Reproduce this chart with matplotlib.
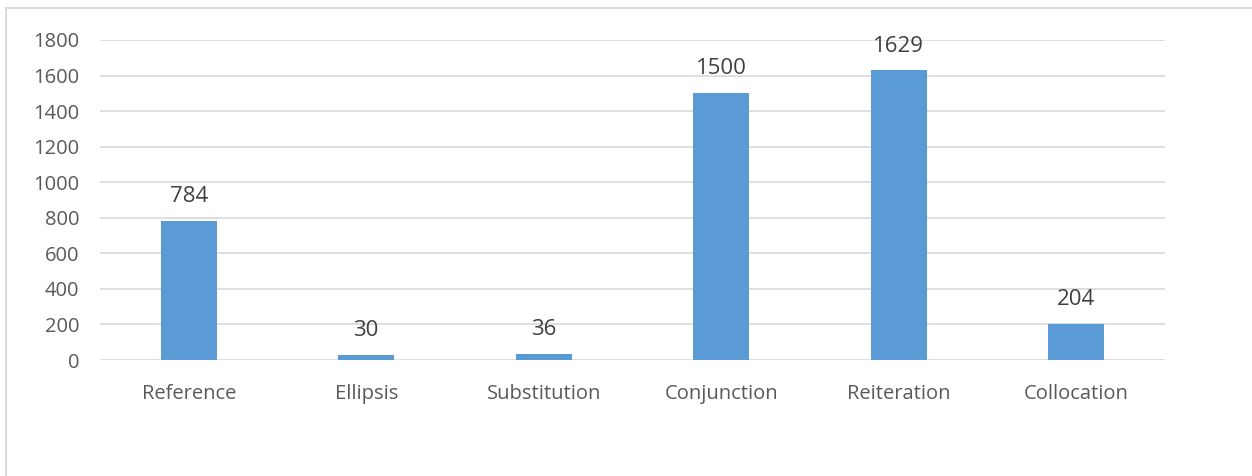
import matplotlib
matplotlib.use('Agg')
from matplotlib import pyplot as plt
from matplotlib.patches import Rectangle

# chart data
categories = ['Reference', 'Ellipsis', 'Substitution', 'Conjunction', 'Reiteration', 'Collocation']
counts = [784, 30, 36, 1500, 1629, 204]
y_ticks = [0, 200, 400, 600, 800, 1000, 1200, 1400, 1600, 1800]

bar_color = '#5B9BD5'
grid_color = '#D9D9D9'
text_color = '#595959'

plt.rcParams['font.family'] = ['Open Sans', 'DejaVu Sans']

fig = plt.figure(figsize=(12.52, 4.76), dpi=100)

# light frame of the chart area (screenshot is cropped on top and right)
fig.patches.append(Rectangle((6 / 1252, -0.1), 1.2, 1 - 8 / 476 + 0.1,
                             transform=fig.transFigure, fill=False,
                             edgecolor=grid_color, linewidth=1.5))

ax = fig.add_axes([100 / 1252, 1 - 360 / 476, 1065 / 1252, 320 / 476])
x = range(len(categories))
bars = ax.bar(x, counts, width=0.315, color=bar_color, zorder=3)

ax.set_xlim(-0.5, len(categories) - 0.5)
ax.set_ylim(0, 1800)
ax.set_yticks(y_ticks)
ax.set_xticks(list(x))
ax.set_xticklabels(categories)
ax.grid(axis='y', color=grid_color, linewidth=1.2, zorder=0)
ax.tick_params(axis='both', length=0, colors=text_color, labelsize=14.5)
ax.tick_params(axis='x', pad=17)
ax.tick_params(axis='y', pad=15)
for s in ax.spines.values():
    s.set_visible(False)

for b, v in zip(bars, counts):
    ax.annotate(str(v), (b.get_x() + b.get_width() / 2, v),
                xytext=(0, 10), textcoords='offset points',
                ha='center', va='bottom', fontsize=16, color='#404040')

fig.savefig('out.png', dpi=100)
